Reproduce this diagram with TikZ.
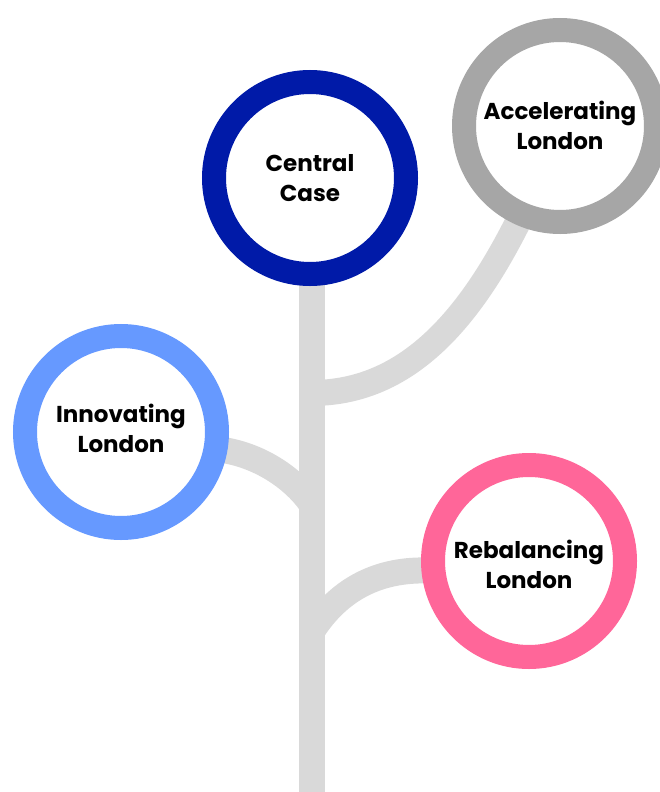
\documentclass[tikz,border=0pt]{standalone}
\usepackage{fontspec}
\setmainfont{Poppins}
\usetikzlibrary{backgrounds}
\definecolor{cdark}{RGB}{0,26,168}
\definecolor{cgray}{RGB}{166,166,166}
\definecolor{cblue}{RGB}{102,153,255}
\definecolor{cpink}{RGB}{255,102,153}
\definecolor{cbranch}{RGB}{217,217,217}
\begin{document}
\begin{tikzpicture}[x=1pt,y=-1pt,
  ring/.style={circle, draw=#1, fill=white, line width=24pt, minimum size=192pt, inner sep=0pt},
  lbl/.style={align=center, inner sep=0pt, font=\bfseries\fontsize{23}{30}\selectfont},
  branch/.style={draw=cbranch, line width=26pt, line cap=butt}]
\useasboundingbox (0,0) rectangle (659,792);
\node[ring=cdark, label={[lbl]center:Central\\Case}] (central) at (310,178) {};
\node[ring=cgray, label={[lbl,yshift=1pt]center:Accelerating\\London}] (accel) at (560,126) {};
\node[ring=cblue, label={[lbl,yshift=4pt]center:Innovating\\London}] (innov) at (121,432) {};
\node[ring=cpink, label={[lbl,yshift=-3pt]center:Rebalancing\\London}] (rebal) at (529,561) {};
\coordinate (root) at (311.5,792);
\coordinate (ja) at (311.5,393);
\coordinate (ji) at (314,508);
\coordinate (jr) at (311.5,632);
\begin{scope}[on background layer]
\draw[branch] (root) -- (root |- central.center);
\draw[branch] (ja) .. controls (430,393) and (500,280) .. (accel.center);
\draw[branch] (innov.center) -- (innov.-10) .. controls (265,458) and (298,482) .. (ji);
\draw[branch] (rebal.center) -- (rebal.185) .. controls (370,571) and (335,595) .. (jr);
\end{scope}
\end{tikzpicture}
\end{document}
